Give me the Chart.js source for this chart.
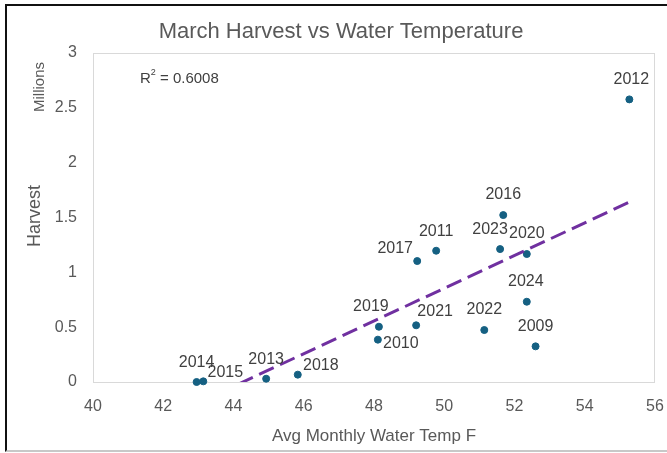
<!DOCTYPE html>
<html lang="en">
<head>
<meta charset="utf-8"/>
<title>March Harvest vs Water Temperature</title>
<script src="https://cdn.jsdelivr.net/npm/chart.js@4.4.1/dist/chart.umd.min.js"></script>
<style>
    body { margin: 0; background: #fff; }
    .wrapper { position: relative; width: 667px; height: 453px; overflow: hidden; }
    .frame {
        position: absolute; left: 5px; top: 4px; width: 720px; height: 444px;
        border-left: 2px solid #111; border-top: 2px solid #111; border-bottom: 2px solid #c8c8c8;
        pointer-events: none;
    }
    canvas { position: absolute; left: 0; top: 0; }
</style>
</head>
<body>
<div class="wrapper">
    <canvas id="chart1" width="667" height="453"></canvas>
    <div class="frame"></div>
</div>

<script>
// values (harvest in millions)
const years   = ['2009','2010','2011','2012','2013','2014','2015','2016',
                 '2017','2018','2019','2020','2021','2022','2023','2024'];
const temps   = [52.60, 48.11, 49.77, 55.27, 44.93, 42.95, 43.14, 51.68,
                 49.23, 45.83, 48.14, 52.35, 49.20, 51.14, 51.59, 52.35];
const harvest = [0.325, 0.386, 1.197, 2.577, 0.030, 0.000, 0.006, 1.522,
                 1.103, 0.067, 0.504, 1.167, 0.517, 0.474, 1.212, 0.732];

// linear trendline ends (as drawn in the picture)
const trendTemps   = [42.95, 55.27];
const trendHarvest = [-0.197, 1.641];
const rSquared = '0.6008';

const xTicks = [40, 42, 44, 46, 48, 50, 52, 54, 56];
const yTicks = [0, 0.5, 1, 1.5, 2, 2.5, 3];

// where each year label sits relative to its dot (px)
const labelShift = [
    [0,-20], [23,4], [0,-19], [2,-20], [0,-19], [0,-19], [22,-9], [0,-20],
    [-22,-12], [23,-9], [-8,-20], [0,-20], [19,-14], [0,-20], [-10,-19], [-1,-20]
];

const FONT = '"Liberation Sans", Arial, sans-serif';
const GREY = '#595959';
const DOT = '#156082';

const extras = {
    id: 'extras',
    beforeDatasetsDraw(chart) {
        const a = chart.chartArea, c = chart.ctx;
        c.save();
        c.strokeStyle = '#d9d9d9';
        c.lineWidth = 1;
        c.strokeRect(a.left + 0.5, a.top + 0.5, a.right - a.left - 1, a.bottom - a.top);
        c.restore();
    },
    afterDraw(chart) {
        const c = chart.ctx;
        const meta = chart.getDatasetMeta(0);
        c.save();
        // year labels
        c.font = '16px ' + FONT;
        c.fillStyle = '#404040';
        c.textAlign = 'center';
        c.textBaseline = 'middle';
        meta.data.forEach((pt, i) => {
            c.fillText(years[i], pt.x + labelShift[i][0], pt.y + labelShift[i][1]);
        });

        // title
        c.fillStyle = GREY;
        c.font = '22px ' + FONT;
        c.fillText('March Harvest vs Water Temperature', 341, 32);

        // x axis title
        c.font = '17px ' + FONT;
        c.fillText('Avg Monthly Water Temp F', 374, 436);

        // y axis title + display units
        c.save();
        c.translate(35, 216);
        c.rotate(-Math.PI / 2);
        c.font = '18px ' + FONT;
        c.fillText('Harvest', 0, 0);
        c.restore();
        c.save();
        c.translate(40, 87);
        c.rotate(-Math.PI / 2);
        c.font = '15px ' + FONT;
        c.fillText('Millions', 0, 0);
        c.restore();

        // R squared
        c.fillStyle = '#404040';
        c.textAlign = 'left';
        c.font = '15px ' + FONT;
        c.fillText('R', 140, 79);
        const rw = c.measureText('R').width;
        c.font = '9px ' + FONT;
        c.fillText('2', 140 + rw, 73);
        c.font = '15px ' + FONT;
        c.fillText(' = ' + rSquared, 140 + rw + 5, 79);
        c.restore();
    }
};

const ctx = document.getElementById('chart1').getContext('2d');
const chart1 = new Chart(ctx, {
    type: 'scatter',
    data: {
        datasets: [
            {
                label: 'Harvest',
                data: temps.map((t, i) => ({ x: t, y: harvest[i] })),
                backgroundColor: DOT,
                borderColor: DOT,
                pointRadius: 3.5,
                pointHoverRadius: 3.5,
                clip: false,
                order: 1
            },
            {
                label: 'Linear (Harvest)',
                data: trendTemps.map((t, i) => ({ x: t, y: trendHarvest[i] })),
                showLine: true,
                borderColor: '#7030A0',
                borderWidth: 3,
                borderDash: [16, 7],
                pointRadius: 0,
                order: 0
            }
        ]
    },
    options: {
        responsive: false,
        animation: false,
        layout: { padding: { top: 53, right: 12, left: 0, bottom: 0 } },
        plugins: {
            legend: { display: false },
            tooltip: { enabled: false },
            title: { display: false }
        },
        scales: {
            x: {
                type: 'linear',
                min: 40, max: 56,
                afterBuildTicks: s => { s.ticks = xTicks.map(v => ({ value: v })); },
                afterFit: s => { s.height = 71; s.paddingLeft = 0; s.paddingRight = 0; },
                grid: { display: false, drawTicks: false },
                border: { display: false },
                ticks: { color: GREY, padding: 15, font: { family: FONT, size: 16 }, maxRotation: 0,
                         callback: v => String(v) }
            },
            y: {
                type: 'linear',
                min: 0, max: 3,
                afterBuildTicks: s => { s.ticks = yTicks.map(v => ({ value: v })); },
                afterFit: s => { s.width = 93; s.paddingTop = 0; s.paddingBottom = 0; },
                grid: { display: false, drawTicks: false },
                border: { display: false },
                ticks: { color: GREY, padding: 16, font: { family: FONT, size: 16 },
                         callback: v => String(v) }
            }
        }
    },
    plugins: [extras]
});
</script>
</body>
</html>
